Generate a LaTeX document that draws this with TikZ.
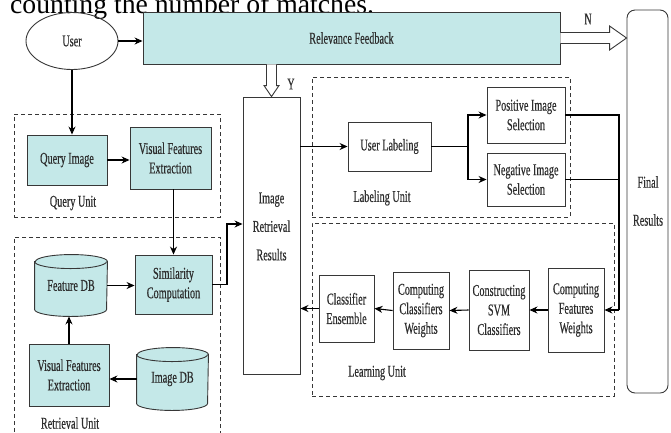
\documentclass[tikz,border=0pt]{standalone}
\usepackage{fontspec}
\setmainfont[FakeStretch=0.62,FakeBold=0.4]{Liberation Serif}
\newfontfamily\capfont{Liberation Serif}
\usetikzlibrary{arrows.meta,calc,backgrounds,shapes.geometric}
\definecolor{boxfill}{RGB}{196,232,232}
\definecolor{lin}{RGB}{55,55,55}
\definecolor{txt}{RGB}{45,45,45}
\begin{document}
\begin{tikzpicture}[x=1pt,y=1pt,font=\fontsize{16.5}{19.5}\selectfont, text=txt,
  box/.style={draw=lin, line width=0.9pt, align=center, inner sep=0pt},
  cbox/.style={box, fill=boxfill},
  unit/.style={draw=lin, dash pattern=on 4pt off 3pt, line width=0.8pt, inner sep=0pt},
  arr/.style={draw=black, line width=1.1pt, -{Stealth[length=8pt,width=7pt]}},
  ln/.style={draw=black, line width=1.1pt},
  dbl/.style={draw=lin, line width=0.9pt, fill=white, line join=miter},
  lbl/.style={inner sep=0pt}]
\clip (0,0) rectangle (671,-432);
% caption fragment
\node[anchor=base west, inner sep=0pt, text=black, font=\capfont\fontsize{27.7}{30}\selectfont] (cap) at (10,-13) {counting the number of matches.};
% dashed units
\node[unit, minimum width=206pt, minimum height=103pt] (qunit) at (117,-165.5) {};
\node[unit, minimum width=206pt, minimum height=223pt] (runit) at (117,-348.5) {};
\node[unit, minimum width=258pt, minimum height=140pt] (labunit) at (441,-147) {};
\node[unit, minimum width=302pt, minimum height=173pt] (learnunit) at (463,-309.5) {};
% main nodes
\node[draw=lin, line width=0.9pt, ellipse, minimum width=92pt, minimum height=57pt, inner sep=0pt] (user) at (72,-41) {User};
\node[cbox, minimum width=417pt, minimum height=52pt] (rf) at (351.5,-38) {Relevance Feedback};
\node[box, rounded corners=8pt, minimum width=41pt, minimum height=383pt] (final) at (647.5,-201.5) {};
\node[lbl, align=center, font=\fontsize{16.5}{38}\selectfont] (finaltext) at (648,-201) {Final\\Results};
\node[box, minimum width=57pt, minimum height=277pt] (irr) at (271.5,-235.5) {};
\node[lbl, align=center, font=\fontsize{16.5}{28.5}\selectfont] (irrtext) at (271.5,-226.5) {Image\\Retrieval\\Results};
% query unit
\node[cbox, minimum width=80pt, minimum height=50pt] (qimg) at (67,-160) {Query Image};
\node[cbox, minimum width=81pt, minimum height=62pt] (vfe1) at (170.5,-158) {Visual Features\\Extraction};
\node[lbl] (qlab) at (73,-203) {Query Unit};
% retrieval unit
\node[box, draw=none, minimum width=72pt, minimum height=61pt] (fdb) at (71,-285.5) {\raisebox{-7pt}{Feature DB}};
\node[cbox, minimum width=77pt, minimum height=59pt] (sim) at (173.5,-284.5) {Similarity\\Computation};
\node[cbox, minimum width=80pt, minimum height=62pt] (vfe2) at (69,-375) {Visual Features\\Extraction};
\node[box, draw=none, minimum width=71pt, minimum height=62pt] (idb) at (172.5,-379) {\raisebox{-7pt}{Image DB}};
\node[lbl] (rlab) at (70,-423) {Retrieval Unit};
\begin{scope}[on background layer]
\foreach \n/\r in {fdb/36,idb/35.5}{
  \filldraw[draw=lin, line width=0.9pt, fill=boxfill] ($(\n.north west)+(0,-7)$) -- ($(\n.south west)+(0,7)$)
    arc[start angle=180,end angle=360,x radius=\r pt,y radius=7pt]
    -- ($(\n.north east)+(0,-7)$)
    arc[start angle=0,end angle=180,x radius=\r pt,y radius=7pt] -- cycle;
  \draw[draw=lin, line width=0.9pt] ($(\n.north west)+(0,-7)$) arc[start angle=180,end angle=360,x radius=\r pt,y radius=7pt];
}
\end{scope}
% labeling unit
\node[box, minimum width=83pt, minimum height=49pt] (ulab) at (389.5,-146.5) {User Labeling};
\node[box, minimum width=78pt, minimum height=56pt] (pos) at (526,-115) {Positive Image\\Selection};
\node[box, minimum width=78pt, minimum height=53pt] (neg) at (526,-179.5) {Negative Image\\Selection};
\node[lbl] (lablab) at (382,-198) {Labeling Unit};
% learning unit
\node[box, minimum width=56pt, minimum height=84pt] (cfw) at (576,-310) {Computing\\Features\\Weights};
\node[box, minimum width=60pt, minimum height=80pt] (svm) at (499,-310) {Constructing\\SVM\\Classifiers};
\node[box, minimum width=56pt, minimum height=77pt] (ccw) at (421,-310.5) {Computing\\Classifiers\\Weights};
\node[box, minimum width=55pt, minimum height=67pt] (ens) at (346.5,-308.5) {Classifier\\Ensemble};
\node[lbl] (learnlab) at (377,-373) {Learning Unit};
% N / Y labels
\node[lbl] (nlab) at (588,-19) {N};
\node[lbl] (ylab) at (291,-84) {Y};
% connectors
\draw[arr] (user.east) -- (user.east -| rf.west);
\draw[arr] (user.south) -- (user.south |- qimg.north);
\draw[arr] (qimg.east) -- (qimg.east -| vfe1.west);
\draw[arr] (sim.north |- vfe1.south) -- (sim.north);
\coordinate (bend) at (227,-224);
\draw[arr] (sim.east) -| (bend) -- (bend -| irr.west);
\draw[arr] (fdb.east) -- (fdb.east -| sim.west);
\draw[arr] (idb.west) -- (idb.west -| vfe2.east);
\draw[arr] (vfe2.north) -- (vfe2.north |- fdb.south);
\draw[arr] (irr.east |- ulab.west) -- (ulab.west);
\coordinate (br) at (468,-146.5);
\draw[ln] (ulab.east) -- (br);
\draw[arr] (br) |- (pos.west);
\draw[arr] (br) |- (neg.west);
\coordinate (rj) at (619,-310);
\draw[ln] (pos.east) -| (rj);
\draw[ln] (neg.east) -- (neg.east -| rj);
\draw[arr] (rj) -- (cfw.east);
\draw[arr] (cfw.west) -- (svm.east);
\draw[arr] (svm.west) -- (ccw.east);
\draw[arr] (ccw.west) -- (ens.east);
\draw[arr] (ens.west) -- (ens.west -| irr.east);
% hollow double arrows
\coordinate (nA) at (rf.east);
\coordinate (nB) at (final.west |- rf.east);
\draw[dbl] ($(nA)+(0,5.5)$) -- ($(nB)+(-17,5.5)$) -- ($(nB)+(-17,12)$) -- (nB) -- ($(nB)+(-17,-12)$) -- ($(nB)+(-17,-5.5)$) -- ($(nA)+(0,-5.5)$);
\coordinate (yA) at (irr.north |- rf.south);
\coordinate (yB) at (irr.north);
\draw[dbl] ($(yA)+(-5,0)$) -- ($(yB)+(-5,11)$) -- ($(yB)+(-7.5,11)$) -- (yB) -- ($(yB)+(7.5,11)$) -- ($(yB)+(5,11)$) -- ($(yA)+(5,0)$);
\end{tikzpicture}
\end{document}
